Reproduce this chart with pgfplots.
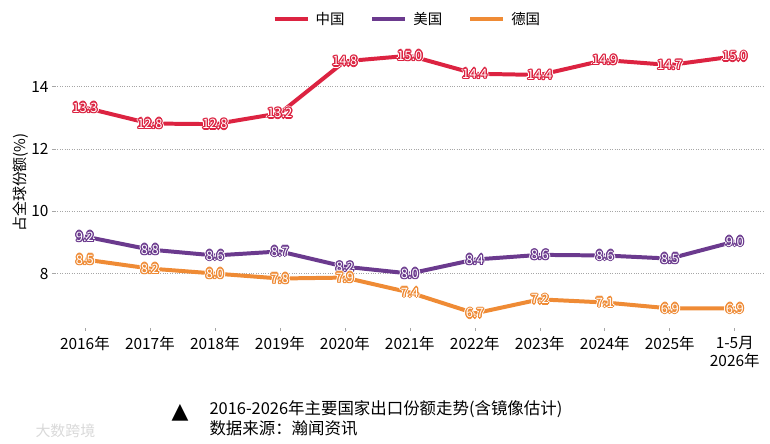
\documentclass[border=0pt]{standalone}
\usepackage{fontspec}
\setmainfont{Noto Sans CJK SC}
\newfontfamily\dejavu{DejaVu Sans}
\usepackage{pgfplots}
\pgfplotsset{compat=1.18}
\definecolor{cCN}{HTML}{DC2341}
\definecolor{cUS}{HTML}{6B3A8E}
\definecolor{cDE}{HTML}{EF8B35}
\newcommand{\oo}[4]{\rlap{\hspace*{#3}\raisebox{#4}{\textcolor{#1}{#2}}}}
\newcommand{\ring}[4]{\oo{#1}{#2}{#3}{0pt}\oo{#1}{#2}{-#3}{0pt}\oo{#1}{#2}{0pt}{#3}\oo{#1}{#2}{0pt}{-#3}\oo{#1}{#2}{#4}{#4}\oo{#1}{#2}{-#4}{#4}\oo{#1}{#2}{#4}{-#4}\oo{#1}{#2}{-#4}{-#4}}
\newcommand{\outl}[2]{\ring{white}{#2}{2.3pt}{1.6pt}\ring{#1}{#2}{1.3pt}{0.9pt}\ring{#1}{#2}{0.7pt}{0.5pt}\textcolor{white}{#2}}
\begin{document}
\begin{tikzpicture}
\useasboundingbox (0,0) rectangle (770bp,444bp);
\begin{axis}[
  at={(55bp,116bp)}, anchor=south west,
  scale only axis, width=709bp, height=291bp,
  xmin=-0.46, xmax=10.45, ymin=6.25, ymax=15.6,
  axis line style={draw=none},
  xtick={0,...,10},
  xticklabels={2016年,2017年,2018年,2019年,2020年,2021年,2022年,2023年,2024年,2025年,{1-5月\\2026年}},
  ytick={8,10,12,14},
  xtick pos=bottom, ytick pos=left,
  tick align=outside, major tick length=3bp,
  tick style={gray!70, line width=0.6pt},
  ymajorgrids, grid style={dotted, gray!70, line width=0.6pt},
  /pgf/number format/assume math mode=true,
  tick label style={font=\fontsize{15.5}{17.5}\selectfont, text=black},
  x tick label style={align=center, yshift=-2bp},
  ylabel={占全球份额(\%)},
  ylabel style={font=\fontsize{15}{17}\selectfont, yshift=-4bp},
  clip=false,
  point meta=explicit symbolic,
  every node near coord/.append style={anchor=center, font=\fontsize{13}{14}\selectfont, inner sep=0pt},
  every axis plot/.append style={line width=4pt},
  legend style={at={(0.497,1.062)}, anchor=center, draw=none, fill=none,
    legend columns=3, font=\fontsize{14.5}{17}\selectfont,
    /tikz/every odd column/.append style={column sep=4bp},
    /tikz/every even column/.append style={column sep=24bp}},
  legend image code/.code={\draw[#1, line width=4pt] (0bp,0bp) -- (33bp,0bp);},
]
\addplot[color=cCN, nodes near coords={\outl{cCN}{\pgfplotspointmeta}}] coordinates {
(0,13.33)[13.3] (1,12.82)[12.8] (2,12.80)[12.8] (3,13.15)[13.2] (4,14.82)[14.8] (5,15.0)[15.0]
(6,14.42)[14.4] (7,14.38)[14.4] (8,14.86)[14.9] (9,14.70)[14.7] (10,14.98)[15.0]};
\addlegendentry{中国}
\addplot[color=cUS, nodes near coords={\outl{cUS}{\pgfplotspointmeta}}] coordinates {
(0,9.19)[9.2] (1,8.77)[8.8] (2,8.58)[8.6] (3,8.71)[8.7] (4,8.22)[8.2] (5,8.0)[8.0]
(6,8.45)[8.4] (7,8.60)[8.6] (8,8.58)[8.6] (9,8.48)[8.5] (10,9.03)[9.0]};
\addlegendentry{美国}
\addplot[color=cDE, nodes near coords={\outl{cDE}{\pgfplotspointmeta}}] coordinates {
(0,8.45)[8.5] (1,8.16)[8.2] (2,8.0)[8.0] (3,7.84)[7.8] (4,7.87)[7.9] (5,7.39)[7.4]
(6,6.72)[6.7] (7,7.17)[7.2] (8,7.07)[7.1] (9,6.88)[6.9] (10,6.88)[6.9]};
\addlegendentry{德国}
\end{axis}
\node[font=\dejavu\fontsize{22}{22}\selectfont] at (180bp,31bp) {▲};
\node[anchor=west, align=left, font=\fontsize{16.5}{20}\selectfont] at (206bp,26bp) {2016-2026年主要国家出口份额走势(含镜像估计)\\数据来源：瀚闻资讯};
\node[anchor=west, text=gray!30, font=\fontsize{15}{17}\selectfont] at (32bp,13bp) {大数跨境};
\end{tikzpicture}
\end{document}
